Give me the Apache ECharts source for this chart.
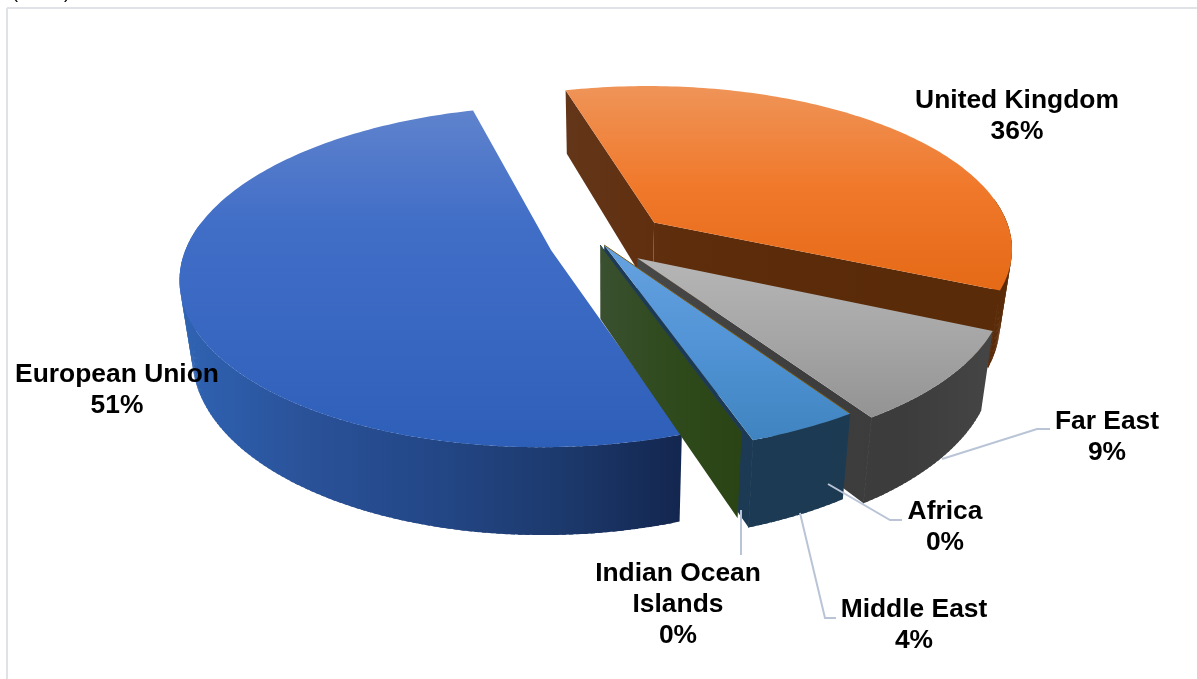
<!DOCTYPE html>
<html>
<head>
<meta charset="utf-8">
<style>
  html, body { margin: 0; padding: 0; background: #fff; }
  #chart { width: 1197px; height: 679px; }
</style>
<script src="https://cdn.jsdelivr.net/npm/echarts@6/dist/echarts.min.js"></script>
</head>
<body>
<div id="chart"></div>
<script>
// Share of trade by region, percent
const categories = ['United Kingdom', 'Far East', 'Africa', 'Middle East', 'Indian Ocean Islands', 'European Union'];
const shares = [36, 9, 0, 4, 0, 51];

// Ground-plane shift of each slice and its radial reach
const shiftU = [0.135, 0.085, -0.005, -0.005, -0.016, -0.15];
const shiftV = [-0.14, 0.08, 0, 0, 0, 0.032];
const reach = [0.99, 0.985, 1.06, 1.06, 1.02, 1];

// Paint order, back to front
const paintOrder = [0, 5, 1, 3, 2, 4];

const topColors = [
  ['#ef9458', '#f0782a', '#e56a17'],
  ['#b6b6b6', '#a6a6a6', '#939393'],
  ['#7d5c12'],
  ['#66a2e0', '#5294d6', '#3f84c0'],
  ['#1f3d5a'],
  ['#5f83cd', '#416ec7', '#3867c1', '#2e5fb8']
];
const wallColors = [
  ['#643619', '#5e2d0c', '#5c2c0a', '#5a2b08', '#5a2b08'],
  ['#484848', '#424242', '#3d3d3d', '#3c3c3c', '#454545'],
  ['#7d5c12', '#7d5c12'],
  ['#1e3a55', '#1c3a54', '#1c3a52'],
  ['#3a5030', '#2f4a1c', '#2a4414'],
  ['#2f63b3', '#2a5299', '#234787', '#1d3a6e', '#13264f']
];

// Label blocks with their leader lines
const labelLines = [
  ['United Kingdom', '36%'], ['Far East', '9%'], ['Africa', '0%'],
  ['Middle East', '4%'], ['Indian Ocean', 'Islands', '0%'], ['European Union', '51%']
];
const labelAnchors = [[1017, 88], [1107, 409], [945, 499], [914, 597], [678, 561], [117, 362]];
const leaders = [
  null,
  [[942, 459], [1037, 429], [1050, 429]],
  [[828, 484], [890, 520], [902, 520]],
  [[800, 513], [825, 618], [836, 618]],
  [[741, 510], [741, 555]],
  null
];

// Projection of the tilted disc
const view = { cx: 606, cy: 245, rx: 364, ry: 165, persp: 0.153, depth: 74, shrink: 0.97, start: 344.5 };

function project(u, v) {
  const p = 1 / (1 - view.persp * v);
  return { x: view.cx + view.rx * u * p, y: view.cy + view.ry * v * p, p };
}
function topPoint(u, v) {
  const q = project(u, v);
  return [q.x, q.y];
}
function basePoint(u, v) {
  const q = project(u, v);
  return [view.cx + (q.x - view.cx) * view.shrink, q.y + view.depth * q.p];
}

// Start and end angle of each slice, clockwise from the far side of the disc
const total = shares.reduce((a, b) => a + b, 0);
const spans = [];
shares.reduce((angle, s) => {
  const end = angle + s / total * 360;
  spans.push([angle, end]);
  return end;
}, view.start);

function rimAt(i, deg) {
  const t = deg * Math.PI / 180;
  return [shiftU[i] + reach[i] * Math.sin(t), shiftV[i] - reach[i] * Math.cos(t)];
}
function gradient(stops, horizontal) {
  return {
    type: 'linear', x: 0, y: 0, x2: horizontal ? 1 : 0, y2: horizontal ? 0 : 1,
    colorStops: stops.map((c, k) => ({ offset: k / (stops.length - 1), color: c }))
  };
}
// Horizontal wall shading in page pixels, so every face of a slice shares one ramp
function wallGradient(stops, x0, x1) {
  return {
    type: 'linear', global: true, x: x0, y: 0, x2: x1, y2: 0,
    colorStops: stops.map((c, k) => ({ offset: k / (stops.length - 1), color: c }))
  };
}
function face(points, fill) {
  return { type: 'polygon', silent: true, shape: { points }, style: { fill } };
}
function cutFace(apex, rimPoint, fill) {
  return face([topPoint(...apex), topPoint(...rimPoint), basePoint(...rimPoint), basePoint(...apex)], fill);
}
// Closes the hairline where a cut face meets the outer wall
function cornerEdge(rimPoint, stroke) {
  return {
    type: 'polyline', silent: true,
    shape: { points: [topPoint(...rimPoint), basePoint(...rimPoint)] },
    style: { stroke, lineWidth: 1, fill: null }
  };
}

function renderSlice(params, api) {
  const i = api.value(0);
  const [a0, a1] = spans[i];
  const apex = [shiftU[i], shiftV[i]];
  const degs = [];
  const steps = Math.max(1, Math.ceil(a1 - a0));
  for (let k = 0; k <= steps; k++) degs.push(a0 + (a1 - a0) * k / steps);
  const rim = degs.map(d => rimAt(i, d));
  const first = rim[0], last = rim[rim.length - 1];
  const pxs = rim.concat([apex]).map(r => topPoint(...r)[0]);
  const wallFill = wallGradient(wallColors[i], Math.min(...pxs), Math.max(...pxs));
  const children = [];

  if (a1 === a0) {
    // A zero share has no surface, only its cut face and top edge
    if (i === 4) children.push(cutFace(apex, first, wallFill));
    children.push({
      type: 'polyline', silent: true,
      shape: { points: [topPoint(...apex), topPoint(...first)] },
      style: { stroke: topColors[i][0], lineWidth: 1, fill: null }
    });
    return { type: 'group', children };
  }

  // Only the cut faces that turn toward the viewer are drawn
  const showFirst = topPoint(...first)[0] < topPoint(...apex)[0];
  const showLast = topPoint(...last)[0] > topPoint(...apex)[0];
  if (showFirst) children.push(cutFace(apex, first, wallFill));
  if (showLast) children.push(cutFace(apex, last, wallFill));

  // Outer wall, near side only; each strip runs under the next to hide seams
  for (let k = 0; k < rim.length - 1; k++) {
    if (Math.cos(degs[k] * Math.PI / 180) > 0.15 && Math.cos(degs[k + 1] * Math.PI / 180) > 0.15) continue;
    const next = rimAt(i, Math.min(degs[k] + 1.6, a1));
    children.push(face([topPoint(...rim[k]), topPoint(...next), basePoint(...next), basePoint(...rim[k])], wallFill));
  }
  if (showLast) children.push(cornerEdge(last, wallFill));
  children.push(face([topPoint(...apex)].concat(rim.map(r => topPoint(...r))), gradient(topColors[i], false)));
  return { type: 'group', children };
}

function renderLabel(params, api) {
  const i = api.value(0);
  const children = [];
  const lead = leaders[i];
  if (lead) {
    children.push({
      type: 'polyline', shape: { points: lead },
      style: { stroke: '#b9c5d6', lineWidth: 2, fill: null }, silent: true
    });
  }
  labelLines[i].forEach((line, k) => {
    const isValue = k === labelLines[i].length - 1;
    children.push({
      type: 'text', silent: true,
      style: {
        x: labelAnchors[i][0], y: labelAnchors[i][1] + k * 31,
        text: isValue ? api.value(1) + '%' : line,
        fill: '#000', align: 'center', verticalAlign: 'top',
        font: 'bold 26.4px "Liberation Sans", Arial, sans-serif'
      }
    });
  });
  return { type: 'group', children };
}

const chart = echarts.init(document.getElementById('chart'), null, { renderer: 'canvas' });
chart.setOption({
  animation: false,
  backgroundColor: '#ffffff',
  graphic: [
    { type: 'line', silent: true, shape: { x1: 7, y1: 8, x2: 1197, y2: 8 }, style: { stroke: '#dfe3e8', lineWidth: 2 } },
    { type: 'line', silent: true, shape: { x1: 7, y1: 8, x2: 7, y2: 679 }, style: { stroke: '#dfe3e8', lineWidth: 2 } },
    { type: 'text', silent: true, style: { x: 12, y: -16, text: '(', fill: '#000', font: '18px "Liberation Sans", Arial, sans-serif' } },
    { type: 'text', silent: true, style: { x: 64, y: -16, text: ')', fill: '#000', font: '18px "Liberation Sans", Arial, sans-serif' } }
  ],
  series: [
    {
      type: 'custom', coordinateSystem: 'none', renderItem: renderSlice,
      data: paintOrder.map(i => [i, shares[i]]), z: 2
    },
    {
      type: 'custom', coordinateSystem: 'none', renderItem: renderLabel,
      data: categories.map((c, i) => ({ name: c, value: [i, shares[i]] })), z: 3
    }
  ]
});
</script>
</body>
</html>
